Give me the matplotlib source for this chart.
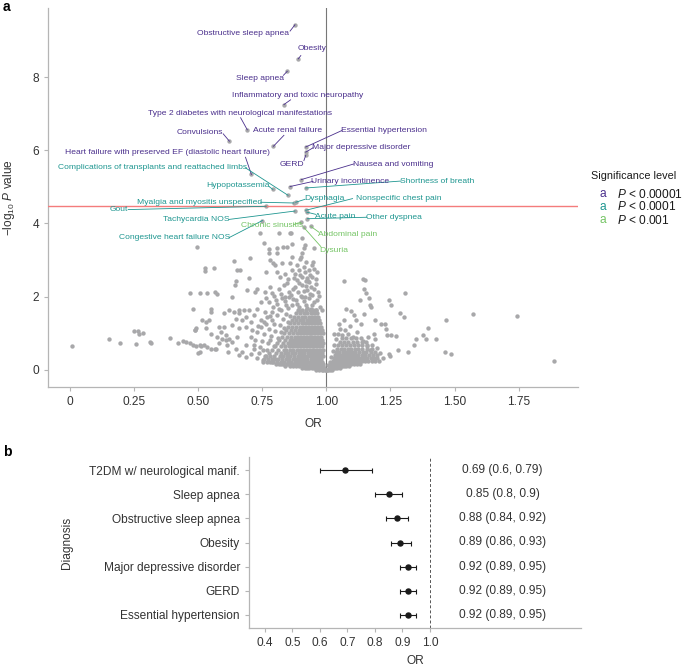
import numpy as np
import matplotlib
matplotlib.use("Agg")
import matplotlib.pyplot as plt

plt.rcParams["font.family"] = ["Liberation Sans", "DejaVu Sans"]
plt.rcParams["mathtext.fontset"] = "custom"
plt.rcParams["mathtext.rm"] = "Liberation Sans"
plt.rcParams["mathtext.it"] = "Liberation Sans:italic"

# ---- panel a: labelled diagnoses (OR, -log10 P, significance level) ----
hit_names = ["Obstructive sleep apnea", "Obesity", "Sleep apnea",
             "Inflammatory and toxic neuropathy",
             "Type 2 diabetes with neurological manifestations", "Convulsions",
             "Acute renal failure", "Essential hypertension",
             "Major depressive disorder", "GERD",
             "Heart failure with preserved EF (diastolic heart failure)",
             "Nausea and vomiting", "Urinary incontinence",
             "Shortness of breath", "Hypopotassemia",
             "Complications of transplants and reattached limbs", "Dysphagia",
             "Myalgia and myositis unspecified", "Gout", "Tachycardia NOS",
             "Nonspecific chest pain", "Acute pain", "Other dyspnea",
             "Congestive heart failure NOS",
             "Chronic sinusitis", "Abdominal pain", "Dysuria"]
hit_or = [0.877, 0.890, 0.847, 0.834, 0.691, 0.621, 0.793, 0.919, 0.919, 0.919,
          0.707, 0.902, 0.858, 0.919, 0.791, 0.850, 0.880, 0.873, 0.765, 0.877,
          0.919, 0.923, 0.926, 0.750, 0.900, 0.939, 0.912]
hit_logp = [9.43, 8.50, 8.16, 7.25, 6.56, 6.25, 6.11, 6.09, 5.95, 5.86,
            5.34, 5.20, 5.01, 4.97, 4.93, 4.77, 4.58, 4.56, 4.47, 4.34,
            4.36, 4.31, 4.13, 4.08, 4.03, 3.92, 3.89]
hit_level = [0] * 13 + [1] * 11 + [2] * 3

# remaining (unlabelled) diagnoses
grey_sparse = [
    (0.007, 0.64), (0.151, 0.85), (0.195, 0.73), (0.247, 1.07), (0.263, 1.06),
    (0.267, 0.98), (0.284, 1.00), (0.258, 0.70), (0.311, 0.77), (0.316, 0.72),
    (0.390, 0.87), (0.420, 0.73), (0.440, 0.79), (0.453, 0.75), (0.466, 0.72),
    (0.479, 0.69), (0.490, 0.65), (0.497, 0.47), (0.509, 0.64), (0.469, 2.10),
    (0.479, 1.65), (0.486, 1.08), (0.492, 1.13), (0.493, 3.37),
    (0.755, 3.46), (0.777, 3.29), (0.807, 3.32), (0.829, 3.35), (0.866, 3.44),
    (0.863, 3.73), (0.814, 3.73), (0.775, 3.18), (0.807, 3.18), (0.866, 3.09),
    (0.905, 3.18), (0.911, 3.32), (0.918, 3.41), (0.950, 3.32), (0.898, 3.04),
    (0.902, 3.09), (0.827, 2.91), (0.790, 2.93), (0.781, 3.00), (0.800, 2.86),
    (0.764, 2.68), (0.807, 2.68), (0.840, 2.63), (0.866, 2.72), (0.879, 2.63),
    (0.892, 2.72), (0.911, 2.82), (0.931, 2.72), (0.944, 2.86), (0.872, 2.50),
    (0.905, 2.55), (0.925, 2.50), (0.944, 2.55), (0.638, 2.98), (0.651, 2.72),
    (0.664, 2.72), (0.525, 2.77), (0.525, 2.71), (0.560, 2.77), (0.647, 2.42),
    (0.642, 2.31), (0.697, 2.50), (0.729, 2.22), (0.534, 2.10), (0.566, 2.13),
    (0.632, 1.99), (0.690, 2.18), (0.723, 2.13), (0.762, 2.13), (0.788, 2.09),
    (0.814, 2.22), (0.833, 2.31), (0.853, 2.13), (0.879, 2.27), (0.905, 2.31),
    (0.925, 2.18), (0.938, 2.27), (0.944, 2.04), (0.918, 1.99), (0.840, 1.99),
    (0.931, 2.40), (0.742, 3.73), (0.859, 3.75), (0.905, 3.59), (0.846, 3.36),
    (0.703, 3.06), (0.508, 2.09),
    (0.548, 1.67), (0.548, 1.58), (0.515, 1.35), (0.541, 1.35), (0.528, 1.13),
    (0.508, 0.67), (0.521, 0.67), (0.535, 0.62), (0.548, 0.58), (0.567, 0.58),
    (0.580, 1.17), (0.587, 1.03), (0.574, 0.90), (0.593, 0.85), (0.606, 0.94),
    (0.619, 0.85), (0.613, 0.67), (0.632, 0.76), (0.600, 1.54), (0.619, 1.63),
    (0.639, 1.58), (0.658, 1.63), (0.678, 1.63), (0.697, 1.63), (0.645, 1.40),
    (0.671, 1.35), (0.632, 1.22), (0.658, 1.13), (0.684, 1.17), (0.704, 1.31),
    (0.717, 1.49), (0.730, 1.67), (0.743, 1.85), (0.763, 1.95), (0.776, 1.85),
    (0.802, 1.90), (0.828, 1.95), (0.854, 1.99), (0.880, 1.90), (0.906, 1.99),
    (0.932, 1.95), (0.951, 1.85), (0.645, 0.58), (0.671, 0.49), (0.684, 0.67),
    (0.704, 0.44), (0.717, 0.58), (0.723, 0.81), (0.704, 0.90), (0.730, 1.03),
    (0.743, 1.17), (0.756, 1.31), (0.769, 1.44), (0.789, 1.58), (0.815, 1.67),
    (0.841, 1.76), (0.867, 1.76), (0.893, 1.72), (0.919, 1.76), (0.939, 1.67),
    (0.958, 1.63),
    (0.505, 0.49), (0.565, 0.58), (0.616, 0.49), (0.659, 0.40), (0.684, 0.35),
    (0.728, 0.31), (0.753, 0.26), (0.787, 0.21), (0.822, 0.17), (0.856, 0.12),
    (0.923, 0.06), (0.488, 1.08), (0.531, 1.31), (0.548, 0.99), (0.582, 0.72),
    (0.573, 2.08), (0.599, 1.17), (0.608, 0.81), (0.650, 0.90), (0.659, 1.54),
    (0.684, 1.44), (0.710, 1.08), (0.719, 0.67), (0.753, 0.53), (0.778, 0.81),
    (0.796, 1.26), (0.762, 1.58),
    (1.068, 2.42), (1.142, 2.49), (1.150, 2.45), (1.146, 2.20), (1.156, 2.09),
    (1.165, 1.97), (1.130, 1.90), (1.169, 1.77), (1.174, 1.72), (1.306, 2.11),
    (1.243, 1.92), (1.253, 1.78), (1.078, 1.66), (1.096, 1.61), (1.107, 1.49),
    (1.146, 1.52), (1.068, 1.36), (1.048, 1.25), (1.135, 1.25), (1.188, 1.37),
    (1.213, 1.24), (1.228, 1.26), (1.234, 1.11), (1.237, 0.94), (1.253, 0.94),
    (1.273, 0.92), (1.287, 1.54), (1.302, 1.43), (1.280, 0.55), (1.319, 0.48),
    (1.341, 0.67), (1.350, 0.83), (1.377, 0.94), (1.390, 0.83), (1.397, 1.14),
    (1.426, 0.85), (1.465, 1.37), (1.461, 0.49), (1.488, 0.42), (1.571, 1.52),
    (1.245, 0.44), (1.248, 0.38), (1.185, 0.99), (1.190, 0.85), (1.163, 0.90),
    (1.029, 0.99), (1.074, 1.08), (1.744, 1.46), (1.888, 0.24),
]

# medium-density fringe around the core
grey_fringe = [
    (0.792, 1.72), (0.808, 1.81), (0.823, 1.64), (0.838, 1.88), (0.851, 1.69),
    (0.871, 1.93), (0.884, 1.80), (0.897, 1.62), (0.912, 1.87), (0.924, 1.70),
    (0.945, 1.78), (0.962, 1.90), (0.975, 1.73), (0.983, 1.64),
    (0.781, 2.25), (0.797, 2.02), (0.822, 2.08), (0.845, 2.36), (0.861, 2.05),
    (0.870, 2.20), (0.887, 2.12), (0.893, 2.38), (0.900, 2.03), (0.913, 2.15),
    (0.921, 2.30), (0.935, 2.08), (0.951, 2.21), (0.958, 2.34), (0.966, 2.12),
    (0.972, 2.02), (0.928, 2.42),
    (0.818, 2.55), (0.851, 2.49), (0.884, 2.45), (0.898, 2.58), (0.915, 2.66),
    (0.920, 2.44), (0.937, 2.60), (0.953, 2.75), (0.961, 2.48), (0.885, 2.86),
    (0.857, 2.92), (0.921, 2.96), (0.948, 2.95), (0.965, 2.68),
    (0.735, 0.45), (0.742, 0.62), (0.748, 0.80), (0.756, 0.97), (0.761, 0.38),
    (0.768, 0.55), (0.772, 0.72), (0.776, 1.12), (0.783, 0.93), (0.788, 1.35),
    (0.794, 0.66), (0.801, 1.05), (0.806, 1.49), (0.812, 0.88), (0.818, 1.22),
    (0.824, 1.02), (0.829, 1.38), (0.836, 1.15), (0.843, 1.52), (0.851, 1.30),
    (0.858, 1.46), (0.765, 1.25), (0.779, 1.47), (0.745, 1.36), (0.733, 1.20),
    (1.005, 0.12), (1.012, 0.22), (1.018, 0.35), (1.024, 0.52), (1.031, 0.68),
    (1.038, 0.83), (1.044, 0.97), (1.053, 1.12), (1.062, 0.95), (1.085, 0.98),
    (1.104, 0.89), (1.121, 1.02), (1.142, 0.80), (1.160, 0.66), (1.171, 0.55),
    (1.196, 0.60), (1.208, 0.45), (1.219, 0.33), (1.090, 1.21), (1.115, 1.36),
]

# the dense core of the volcano, row by row (-log10 P, ORs in that row)
core_left_rows = [
    (0.00, [0.960, 0.972, 0.981, 0.988, 0.994, 0.998]),
    (0.05, [0.905, 0.918, 0.930, 0.942, 0.951, 0.963, 0.975, 0.984, 0.991]),
    (0.10, [0.840, 0.856, 0.868, 0.880, 0.893, 0.907, 0.915, 0.928, 0.937,
            0.949, 0.958, 0.969, 0.979, 0.987]),
    (0.15, [0.802, 0.815, 0.829, 0.846, 0.861, 0.874, 0.889, 0.899, 0.911,
            0.922, 0.934, 0.944, 0.955, 0.966, 0.977, 0.986]),
    (0.22, [0.752, 0.768, 0.779, 0.792, 0.808, 0.821, 0.835, 0.850, 0.863,
            0.878, 0.886, 0.897, 0.909, 0.920, 0.931, 0.941, 0.952, 0.962,
            0.973, 0.983]),
    (0.30, [0.757, 0.772, 0.786, 0.799, 0.812, 0.826, 0.842, 0.855, 0.870,
            0.883, 0.894, 0.904, 0.916, 0.926, 0.938, 0.948, 0.959, 0.970,
            0.980]),
    (0.38, [0.765, 0.781, 0.795, 0.818, 0.831, 0.847, 0.859, 0.872, 0.887,
            0.899, 0.911, 0.923, 0.935, 0.945, 0.956, 0.967, 0.978, 0.987]),
    (0.46, [0.776, 0.804, 0.823, 0.838, 0.851, 0.866, 0.879, 0.892, 0.905,
            0.914, 0.927, 0.939, 0.950, 0.961, 0.972, 0.983]),
    (0.55, [0.789, 0.812, 0.833, 0.844, 0.858, 0.871, 0.885, 0.897, 0.908,
            0.919, 0.931, 0.943, 0.953, 0.965, 0.976, 0.985]),
    (0.64, [0.798, 0.821, 0.839, 0.853, 0.865, 0.877, 0.890, 0.902, 0.913,
            0.925, 0.936, 0.947, 0.958, 0.969, 0.981]),
    (0.73, [0.806, 0.829, 0.848, 0.861, 0.874, 0.884, 0.896, 0.909, 0.920,
            0.930, 0.942, 0.952, 0.963, 0.975, 0.986]),
    (0.82, [0.815, 0.837, 0.856, 0.869, 0.881, 0.893, 0.904, 0.916, 0.927,
            0.938, 0.949, 0.960, 0.971, 0.982]),
    (0.91, [0.826, 0.846, 0.862, 0.878, 0.889, 0.900, 0.911, 0.923, 0.934,
            0.944, 0.955, 0.966, 0.978]),
    (1.00, [0.834, 0.852, 0.868, 0.884, 0.896, 0.907, 0.919, 0.930, 0.941,
            0.952, 0.963, 0.975, 0.985]),
    (1.09, [0.843, 0.860, 0.876, 0.891, 0.903, 0.914, 0.926, 0.937, 0.948,
            0.958, 0.970, 0.981]),
    (1.18, [0.851, 0.867, 0.882, 0.897, 0.910, 0.921, 0.933, 0.944, 0.955,
            0.966, 0.977]),
    (1.27, [0.858, 0.874, 0.889, 0.904, 0.916, 0.929, 0.940, 0.951, 0.962,
            0.973]),
    (1.36, [0.866, 0.881, 0.896, 0.910, 0.923, 0.936, 0.947, 0.959, 0.970]),
    (1.45, [0.873, 0.889, 0.903, 0.917, 0.930, 0.943, 0.955, 0.966]),
    (1.54, [0.882, 0.897, 0.912, 0.925, 0.939, 0.952, 0.963]),
    (1.63, [0.889, 0.906, 0.921, 0.934, 0.948, 0.960]),
]
core_right_rows = [
    (0.00, [1.002, 1.008, 1.014, 1.020]),
    (0.05, [1.010, 1.018, 1.026, 1.034, 1.043, 1.052]),
    (0.10, [1.014, 1.023, 1.032, 1.041, 1.050, 1.060, 1.069, 1.078, 1.088]),
    (0.16, [1.019, 1.029, 1.038, 1.047, 1.057, 1.066, 1.076, 1.086, 1.096,
            1.106, 1.118, 1.130]),
    (0.23, [1.024, 1.034, 1.044, 1.054, 1.064, 1.074, 1.084, 1.094, 1.104,
            1.115, 1.126, 1.138, 1.150, 1.163, 1.176, 1.190, 1.205]),
    (0.31, [1.028, 1.039, 1.050, 1.061, 1.072, 1.082, 1.093, 1.103, 1.113,
            1.124, 1.136, 1.148, 1.160, 1.173, 1.186, 1.199]),
    (0.40, [1.033, 1.045, 1.057, 1.068, 1.080, 1.091, 1.102, 1.114, 1.125,
            1.139, 1.152, 1.167, 1.181, 1.196]),
    (0.49, [1.037, 1.050, 1.063, 1.075, 1.088, 1.100, 1.112, 1.126, 1.141,
            1.156, 1.172, 1.189]),
    (0.58, [1.041, 1.055, 1.069, 1.083, 1.096, 1.110, 1.124, 1.140, 1.158,
            1.177]),
    (0.67, [1.046, 1.061, 1.077, 1.092, 1.107, 1.122, 1.138, 1.157, 1.176]),
    (0.76, [1.052, 1.069, 1.086, 1.103, 1.120, 1.137, 1.155]),
    (0.86, [1.060, 1.078, 1.097, 1.117, 1.135]),
]

THRESH = 4.49          # -log10 P significance line
level_names = ["P < 0.00001", "P < 0.0001", "P < 0.001"]

# ---- panel b: forest plot ----
diag = ["T2DM w/ neurological manif.", "Sleep apnea", "Obstructive sleep apnea",
        "Obesity", "Major depressive disorder", "GERD", "Essential hypertension"]
diag_or = [0.69, 0.85, 0.88, 0.89, 0.92, 0.92, 0.92]
diag_lo = [0.60, 0.80, 0.84, 0.86, 0.89, 0.89, 0.89]
diag_hi = [0.79, 0.90, 0.92, 0.93, 0.95, 0.95, 0.95]

# ---- label layout for panel a: text centre (x, y), segment start (x, y) ----
label_layout = [
    (0.675, 9.20, 0.858, 9.26), (0.942, 8.79, 0.900, 8.59),
    (0.739, 7.96, 0.832, 8.05), (0.887, 7.50, 0.860, 7.38),
    (0.663, 7.00, 0.665, 6.89), (0.506, 6.50, 0.597, 6.45),
    (0.847, 6.54, 0.834, 6.41), (1.224, 6.54, 1.060, 6.54),
    (1.135, 6.07, 0.948, 6.07), (0.865, 5.61, 0.912, 5.72),
    (0.378, 5.95, 0.684, 5.81), (1.261, 5.61, 1.108, 5.63),
    (1.094, 5.15, 0.948, 5.15), (1.433, 5.16, 1.291, 5.16),
    (0.653, 5.04, 0.776, 5.01), (0.321, 5.52, 0.684, 5.52),
    (0.993, 4.68, 0.916, 4.66), (0.504, 4.58, 0.743, 4.58),
    (0.189, 4.38, 0.226, 4.38), (0.491, 4.11, 0.619, 4.11),
    (1.284, 4.68, 1.102, 4.68), (1.034, 4.20, 0.958, 4.25),
    (1.264, 4.17, 1.158, 4.17), (0.407, 3.61, 0.619, 3.61),
    (0.787, 3.95, 0.872, 3.97), (1.082, 3.70, 0.971, 3.76),
    (1.030, 3.25, 0.978, 3.37),
]

LEVEL_COLORS = ["#4A2F8C", "#1E9690", "#74C464"]
GREY = "#A8A8AA"
AXIS_GREY = "#B5B5B5"
TEXT = "#333333"

W, H = 685, 668
fig = plt.figure(figsize=(W / 100, H / 100), dpi=100)


def px_axes(left, top, right, bottom):
    return fig.add_axes([left / W, 1 - bottom / H, (right - left) / W,
                         (bottom - top) / H])


def style_axes(ax):
    for side in ("top", "right"):
        ax.spines[side].set_visible(False)
    for side in ("left", "bottom"):
        ax.spines[side].set_color(AXIS_GREY)
        ax.spines[side].set_linewidth(0.9)
    ax.tick_params(colors=AXIS_GREY, labelcolor=TEXT, labelsize=8.6,
                   length=3, width=0.8)


# ---- panel a ----
ax = px_axes(48, 8, 578, 387)
style_axes(ax)

gx = [p[0] for p in grey_sparse + grey_fringe]
gy = [p[1] for p in grey_sparse + grey_fringe]
for rows in (core_left_rows, core_right_rows):
    for y, ors in rows:
        gx += ors
        gy += [y] * len(ors)
gx += hit_or
gy += hit_logp
ax.scatter(gx, gy, s=10, color=GREY, linewidths=0, zorder=2)

ax.axvline(1.0, color="#777777", lw=0.8, zorder=1)
ax.axhline(THRESH, color="#F47C7C", lw=1.0, zorder=3)

for name, x, y, lvl, (tx, ty, sx, sy) in zip(hit_names, hit_or, hit_logp,
                                             hit_level, label_layout):
    c = LEVEL_COLORS[lvl]
    ax.plot([sx, x], [sy, y], color=c, lw=0.6, zorder=4)
    ax.text(tx, ty, name, color=c, fontsize=6.1, ha="center", va="center",
            zorder=5)

ax.set_xlim(-0.087, 1.982)
ax.set_ylim(-0.47, 9.89)
ax.set_xticks([0, 0.25, 0.5, 0.75, 1.0, 1.25, 1.5, 1.75])
ax.set_xticklabels(["0", "0.25", "0.50", "0.75", "1.00", "1.25", "1.50", "1.75"])
ax.set_yticks([0, 2, 4, 6, 8])
ax.set_xlabel("OR", fontsize=8.6, color=TEXT, va="top")
ax.xaxis.set_label_coords(0.5, -0.082)
ax.set_ylabel(r"$-\mathrm{log}_{10}$ $P$ value", fontsize=8.6, color=TEXT)
ax.yaxis.set_label_coords(-0.058, 0.5)

# legend
fig.text(591 / W, 1 - 176 / H, "Significance level", fontsize=7.8,
         color="#1A1A1A", ha="left", va="center")
for i, (lab, c) in enumerate(zip(level_names, LEVEL_COLORS)):
    yy = 1 - (194 + 13 * i) / H
    fig.text(603 / W, yy, "a", fontsize=8.6, color=c, ha="center", va="center")
    fig.text(617 / W, yy, "$P$" + lab[1:], fontsize=8.6, color="#1A1A1A",
             ha="left", va="center")

fig.text(3 / W, 1 - 7 / H, "a", fontsize=10, fontweight="bold", ha="left",
         va="center")
fig.text(3 / W, 1 - 452 / H, "b", fontsize=10, fontweight="bold", ha="left",
         va="center")

# ---- panel b ----
axb = px_axes(249, 457, 581, 628)
style_axes(axb)
ypos = np.arange(1, len(diag) + 1)
o = np.array(diag_or)
axb.errorbar(o, ypos, xerr=[o - np.array(diag_lo), np.array(diag_hi) - o],
             fmt="o", color="#1A1A1A", ms=3.6, capsize=1.8, elinewidth=0.8,
             capthick=0.8, zorder=3)
axb.axvline(1.0, color="#555555", lw=0.7, ls=(0, (3, 2.2)), zorder=1)
for y, v, lo, hi in zip(ypos, diag_or, diag_lo, diag_hi):
    axb.text(1.265, y, f"{v:g} ({lo:g}, {hi:g})", ha="center", va="center",
             fontsize=8.6, color=TEXT)
axb.set_ylim(7.55, 0.45)
axb.set_xlim(0.342, 1.55)
axb.set_yticks(ypos)
axb.set_yticklabels(diag)
xt = [0.4, 0.5, 0.6, 0.7, 0.8, 0.9, 1.0]
axb.set_xticks(xt)
axb.set_xticklabels([f"{v:.1f}" for v in xt])
axb.set_xlabel("OR", fontsize=8.6, color=TEXT, va="top")
axb.xaxis.set_label_coords(0.5, -0.160)
axb.set_ylabel("Diagnosis", fontsize=8.6, color=TEXT)
axb.yaxis.set_label_coords(-0.530, 0.5)

fig.savefig("out.png", dpi=100)
